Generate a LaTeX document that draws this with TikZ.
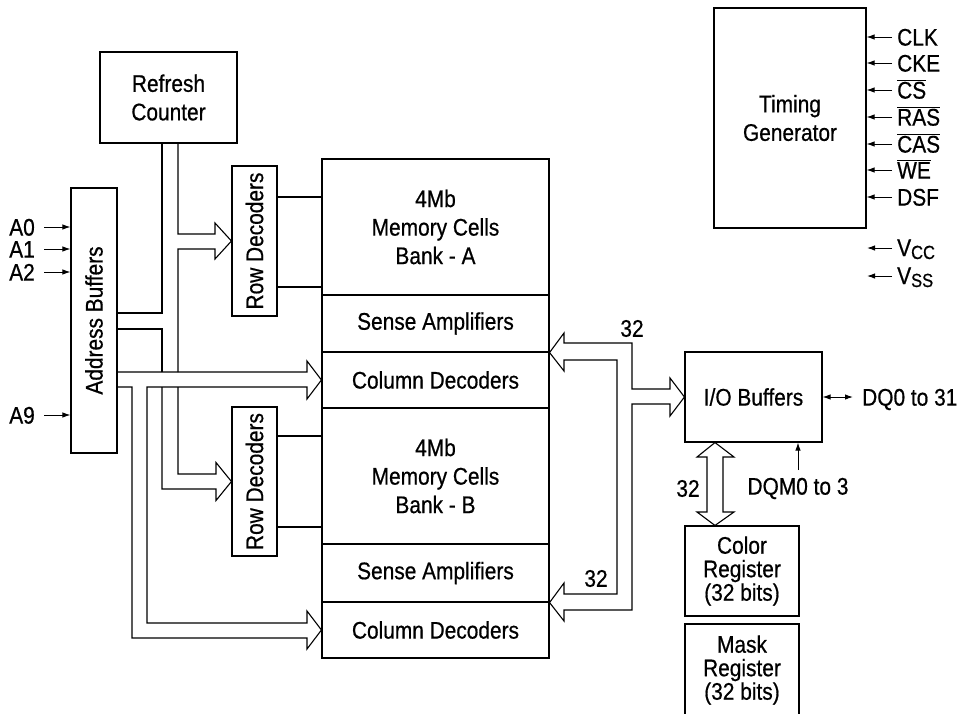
\documentclass[tikz,border=0pt]{standalone}
\usepackage{fontspec}
\setmainfont{Liberation Sans}[FakeStretch=0.87,FakeBold=0.6]
\usetikzlibrary{arrows.meta}
\tikzset{
  ln/.style={line width=1.1pt, line join=miter},
  box/.style={draw, line width=1.1pt, inner sep=0pt, align=center, font=\fontsize{24}{28.5}\selectfont},
  rbox/.style={draw, line width=1.1pt, inner sep=0pt, align=center, font=\fontsize{24}{23.5}\selectfont},
  lbl/.style={inner sep=0pt, font=\fontsize{24}{28}\selectfont},
  rlbl/.style={inner sep=0pt, rotate=90, font=\fontsize{24}{28}\selectfont},
  pin/.style={line width=1pt, -{Latex[length=8pt,width=5.5pt]}},
  dbl/.style={line width=1pt, {Latex[length=8pt,width=5.5pt]}-{Latex[length=8pt,width=5.5pt]}},
}
\newcommand{\ovl}[1]{$\overline{\mbox{#1}}$}
\begin{document}
\begin{tikzpicture}[x=1pt,y=-1pt]
\clip (0,0) rectangle (962,713);
\fill[white] (0,0) rectangle (962,713);
% boxes
\node[box, minimum width=137, minimum height=91] (refresh) at (168.5,97.5) {Refresh\\Counter};
\node[box, minimum width=46, minimum height=265] (addr) at (94,320.5) {};
\node[rlbl] at (addr) {Address Buffers};
\node[box, minimum width=45, minimum height=150] (rdA) at (254.5,241) {};
\node[rlbl] at (rdA) {Row Decoders};
\node[box, minimum width=45, minimum height=149] (rdB) at (254.5,481.5) {};
\node[rlbl] at (rdB) {Row Decoders};
\node[box, minimum width=227, minimum height=136] (bankA) at (435.5,227) {4Mb\\Memory Cells\\Bank - A};
\node[box, minimum width=227, minimum height=57] (senseA) at (435.5,323.5) {Sense Amplifiers};
\node[box, minimum width=227, minimum height=56] (colA) at (435.5,380) {Column Decoders};
\node[box, minimum width=227, minimum height=136] (bankB) at (435.5,476) {4Mb\\Memory Cells\\Bank - B};
\node[box, minimum width=227, minimum height=58] (senseB) at (435.5,573) {Sense Amplifiers};
\node[box, minimum width=227, minimum height=56] (colB) at (435.5,630) {Column Decoders};
\node[box, minimum width=152, minimum height=220] (timing) at (790,118) {Timing\\Generator};
\node[box, minimum width=137, minimum height=90] (io) at (753.5,397) {I/O Buffers};
\node[rbox, minimum width=114, minimum height=90] (color) at (742,571) {Color\\Register\\(32 bits)};
\node[rbox, minimum width=114, minimum height=92] (mask) at (742,670) {Mask\\Register\\(32 bits)};
% row decoder to banks
\draw[ln] (rdA.east |- 0,197) -- (bankA.west |- 0,197);
\draw[ln] (rdA.east |- 0,287) -- (bankA.west |- 0,287);
\draw[ln] (rdB.east |- 0,436) -- (bankB.west |- 0,436);
\draw[ln] (rdB.east |- 0,527) -- (bankB.west |- 0,527);
% address inputs
\node[lbl, anchor=base east] (a0) at (35,235.6) {A0};
\node[lbl, anchor=base east] (a1) at (35,257.6) {A1};
\node[lbl, anchor=base east] (a2) at (35,280.6) {A2};
\node[lbl, anchor=base east] (a9) at (35,423.6) {A9};
\coordinate (pa0) at (44,227);
\coordinate (pa1) at (44,249);
\coordinate (pa2) at (44,272);
\coordinate (pa9) at (44,415);
\draw[pin] (pa0) -- (addr.west |- pa0);
\draw[pin] (pa1) -- (addr.west |- pa1);
\draw[pin] (pa2) -- (addr.west |- pa2);
\draw[pin] (pa9) -- (addr.west |- pa9);
% refresh / address pipes to row decoders
\draw[ln] (addr.east |- 0,313) -- (162,313) -- (162,0 |- refresh.south);
\draw[ln] (178,0 |- refresh.south) -- (178,234) -- (215,234) -- (215,223) -- (rdA.west) -- (215,259) -- (215,249) -- (178,249) -- (178,372);
\draw[ln] (178,387) -- (178,474) -- (216,474) -- (216,462.5) -- (rdB.west) -- (216,500.5) -- (216,489) -- (162,489) -- (162,387);
\draw[ln] (162,372) -- (162,329) -- (addr.east |- 0,329);
% column pipes
\draw[ln] (addr.east |- 0,372) -- (307,372) -- (307,361) -- (colA.west) -- (307,399) -- (307,387) -- (147,387) -- (147,623) -- (307,623) -- (307,611) -- (colB.west) -- (307,649) -- (307,638) -- (132,638) -- (132,387) -- (addr.east |- 0,387);
% data pipes
\draw[ln] (senseA.south east) -- (564,333) -- (564,343) -- (632,343) -- (632,389) -- (670,389) -- (670,378) -- (io.west) -- (670,416) -- (670,404) -- (632,404) -- (632,610) -- (564,610) -- (564,621) -- (senseB.south east) -- (564,583) -- (564,594) -- (617,594) -- (617,360) -- (564,360) -- (564,371) -- cycle;
\node[lbl] at (632,328.5) {32};
\node[lbl] at (596,578.5) {32};
% io <-> color register
\draw[ln] (715,0 |- io.south) -- (734,457) -- (723,457) -- (723,512) -- (734,512) -- (715,0 |- color.north) -- (697,512) -- (707,512) -- (707,457) -- (697,457) -- cycle;
\node[lbl] at (688,488.5) {32};
% DQ
\node[lbl, anchor=base west] (dq) at (862,405.6) {DQ0 to 31};
\draw[dbl] (io.east) -- (io.east -| 853,0);
\node[lbl] (dqm) at (798,488.5) {DQM0 to 3};
\draw[pin] (798,470) -- (io.south -| 798,0);
% timing pins
\coordinate (p1) at (892,37);
\coordinate (p2) at (892,63);
\coordinate (p3) at (892,90);
\coordinate (p4) at (892,117);
\coordinate (p5) at (892,144);
\coordinate (p6) at (892,170);
\coordinate (p7) at (892,197);
\node[lbl, anchor=base west] (clk) at (897,45.6) {CLK};
\node[lbl, anchor=base west] (cke) at (897,71.6) {CKE};
\node[lbl, anchor=base west] (cs) at (897,98.6) {\ovl{CS}};
\node[lbl, anchor=base west] (ras) at (897,125.6) {\ovl{RAS}};
\node[lbl, anchor=base west] (cas) at (897,152.6) {\ovl{CAS}};
\node[lbl, anchor=base west] (we) at (897,178.6) {\ovl{WE}};
\node[lbl, anchor=base west] (dsf) at (897,205.6) {DSF};
\foreach \p in {p1,p2,p3,p4,p5,p6,p7} {\draw[pin] (\p) -- (timing.east |- \p);}
\coordinate (pvcc) at (892,248);
\coordinate (pvss) at (892,276);
\coordinate (evcc) at (867,248);
\coordinate (evss) at (867,276);
\node[lbl, anchor=base west] (vcc) at (897,256) {V\raisebox{-3pt}{\fontsize{19}{19}\selectfont CC}};
\node[lbl, anchor=base west] (vss) at (897,284) {V\raisebox{-3pt}{\fontsize{19}{19}\selectfont SS}};
\draw[pin] (pvcc) -- (evcc);
\draw[pin] (pvss) -- (evss);
\end{tikzpicture}
\end{document}
